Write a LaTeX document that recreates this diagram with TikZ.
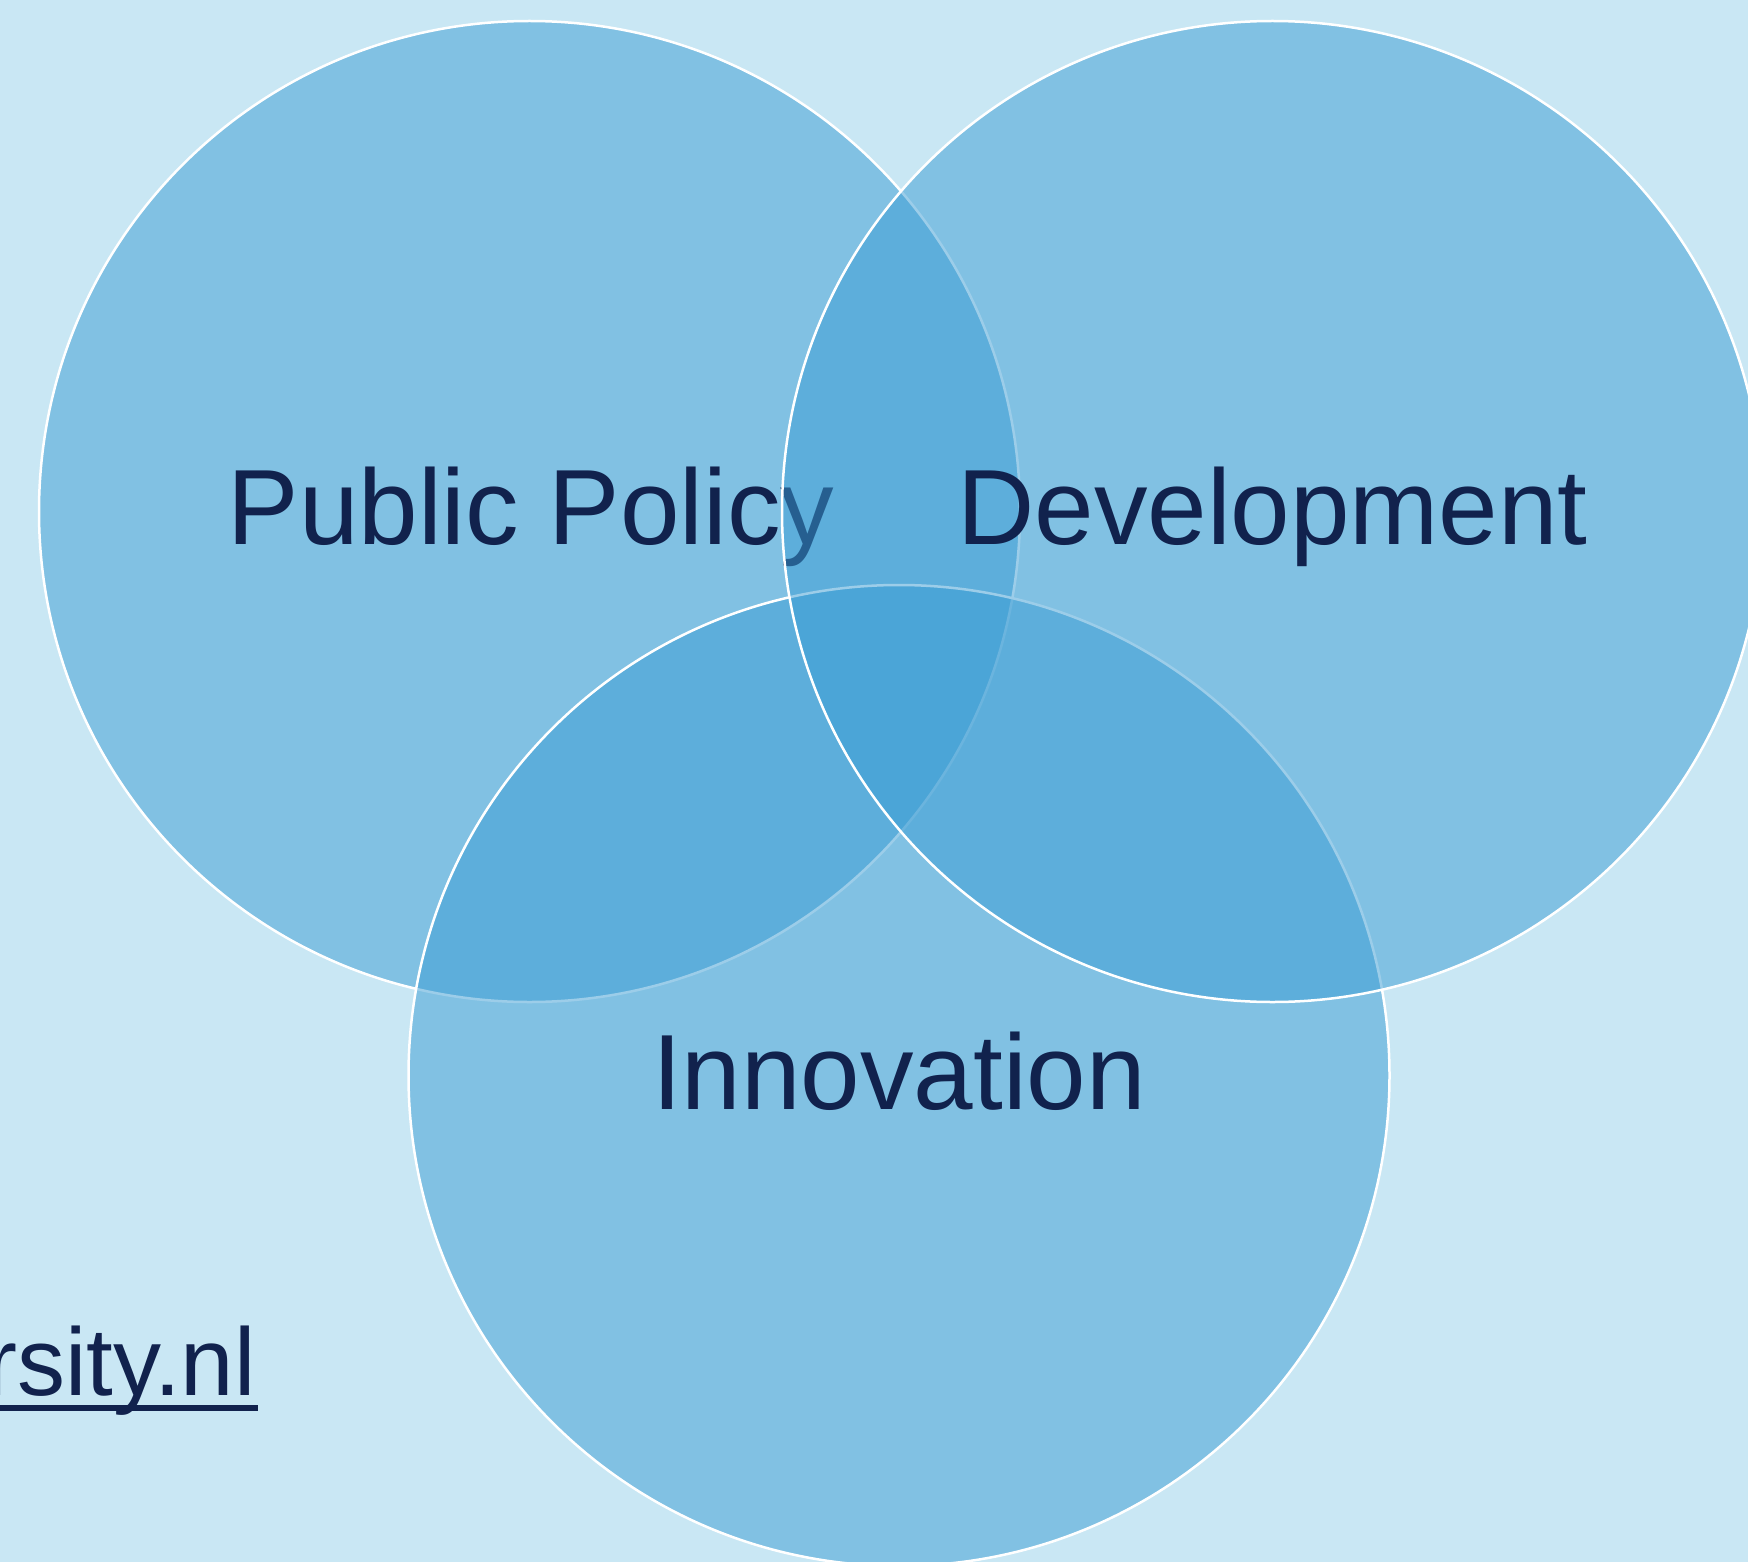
\documentclass[tikz,border=0pt]{standalone}
\usepackage{fontspec}
\setmainfont{Liberation Sans}
\definecolor{bgblue}{RGB}{201,231,244}
\definecolor{vennblue}{RGB}{59,157,212}
\definecolor{navy}{RGB}{17,34,77}
\begin{document}
\begin{tikzpicture}[x=1pt,y=-1pt,
  venn/.style={circle, minimum size=981pt, inner sep=0pt, fill=vennblue,
    fill opacity=0.5, draw=white, line width=2.5pt},
  vennlabel/.style={text=navy, font=\fontsize{107}{128}\selectfont,
    inner sep=0pt, anchor=base},
  urltext/.style={text=navy, font=\fontsize{96}{115}\selectfont,
    inner sep=0pt, anchor=base west}]
% page background
\fill[bgblue] (0,0) rectangle (1748,1562);
\useasboundingbox (0,0) rectangle (1748,1562);
% the three sets, each laid over the previous ones
\node[venn] (policy) at (529.5,511.5) {};
\node[vennlabel] (policytext) at (531,544) {Public Policy};
\node[venn] (innov) at (899,1075.5) {};
\node[venn] (dev) at (1272.5,511.5) {};
\node[vennlabel] (devtext) at (1272.5,544) {Development};
\node[vennlabel] (innovtext) at (899,1109) {Innovation};
% web address with its underline
\node[urltext] (site) at (-15,1395) {rsity.nl};
\coordinate (ulstart) at (0,1408);
\coordinate (ulend) at (258,1408);
\draw[navy, line width=6pt] (ulstart) -- (ulend);
\end{tikzpicture}
\end{document}
